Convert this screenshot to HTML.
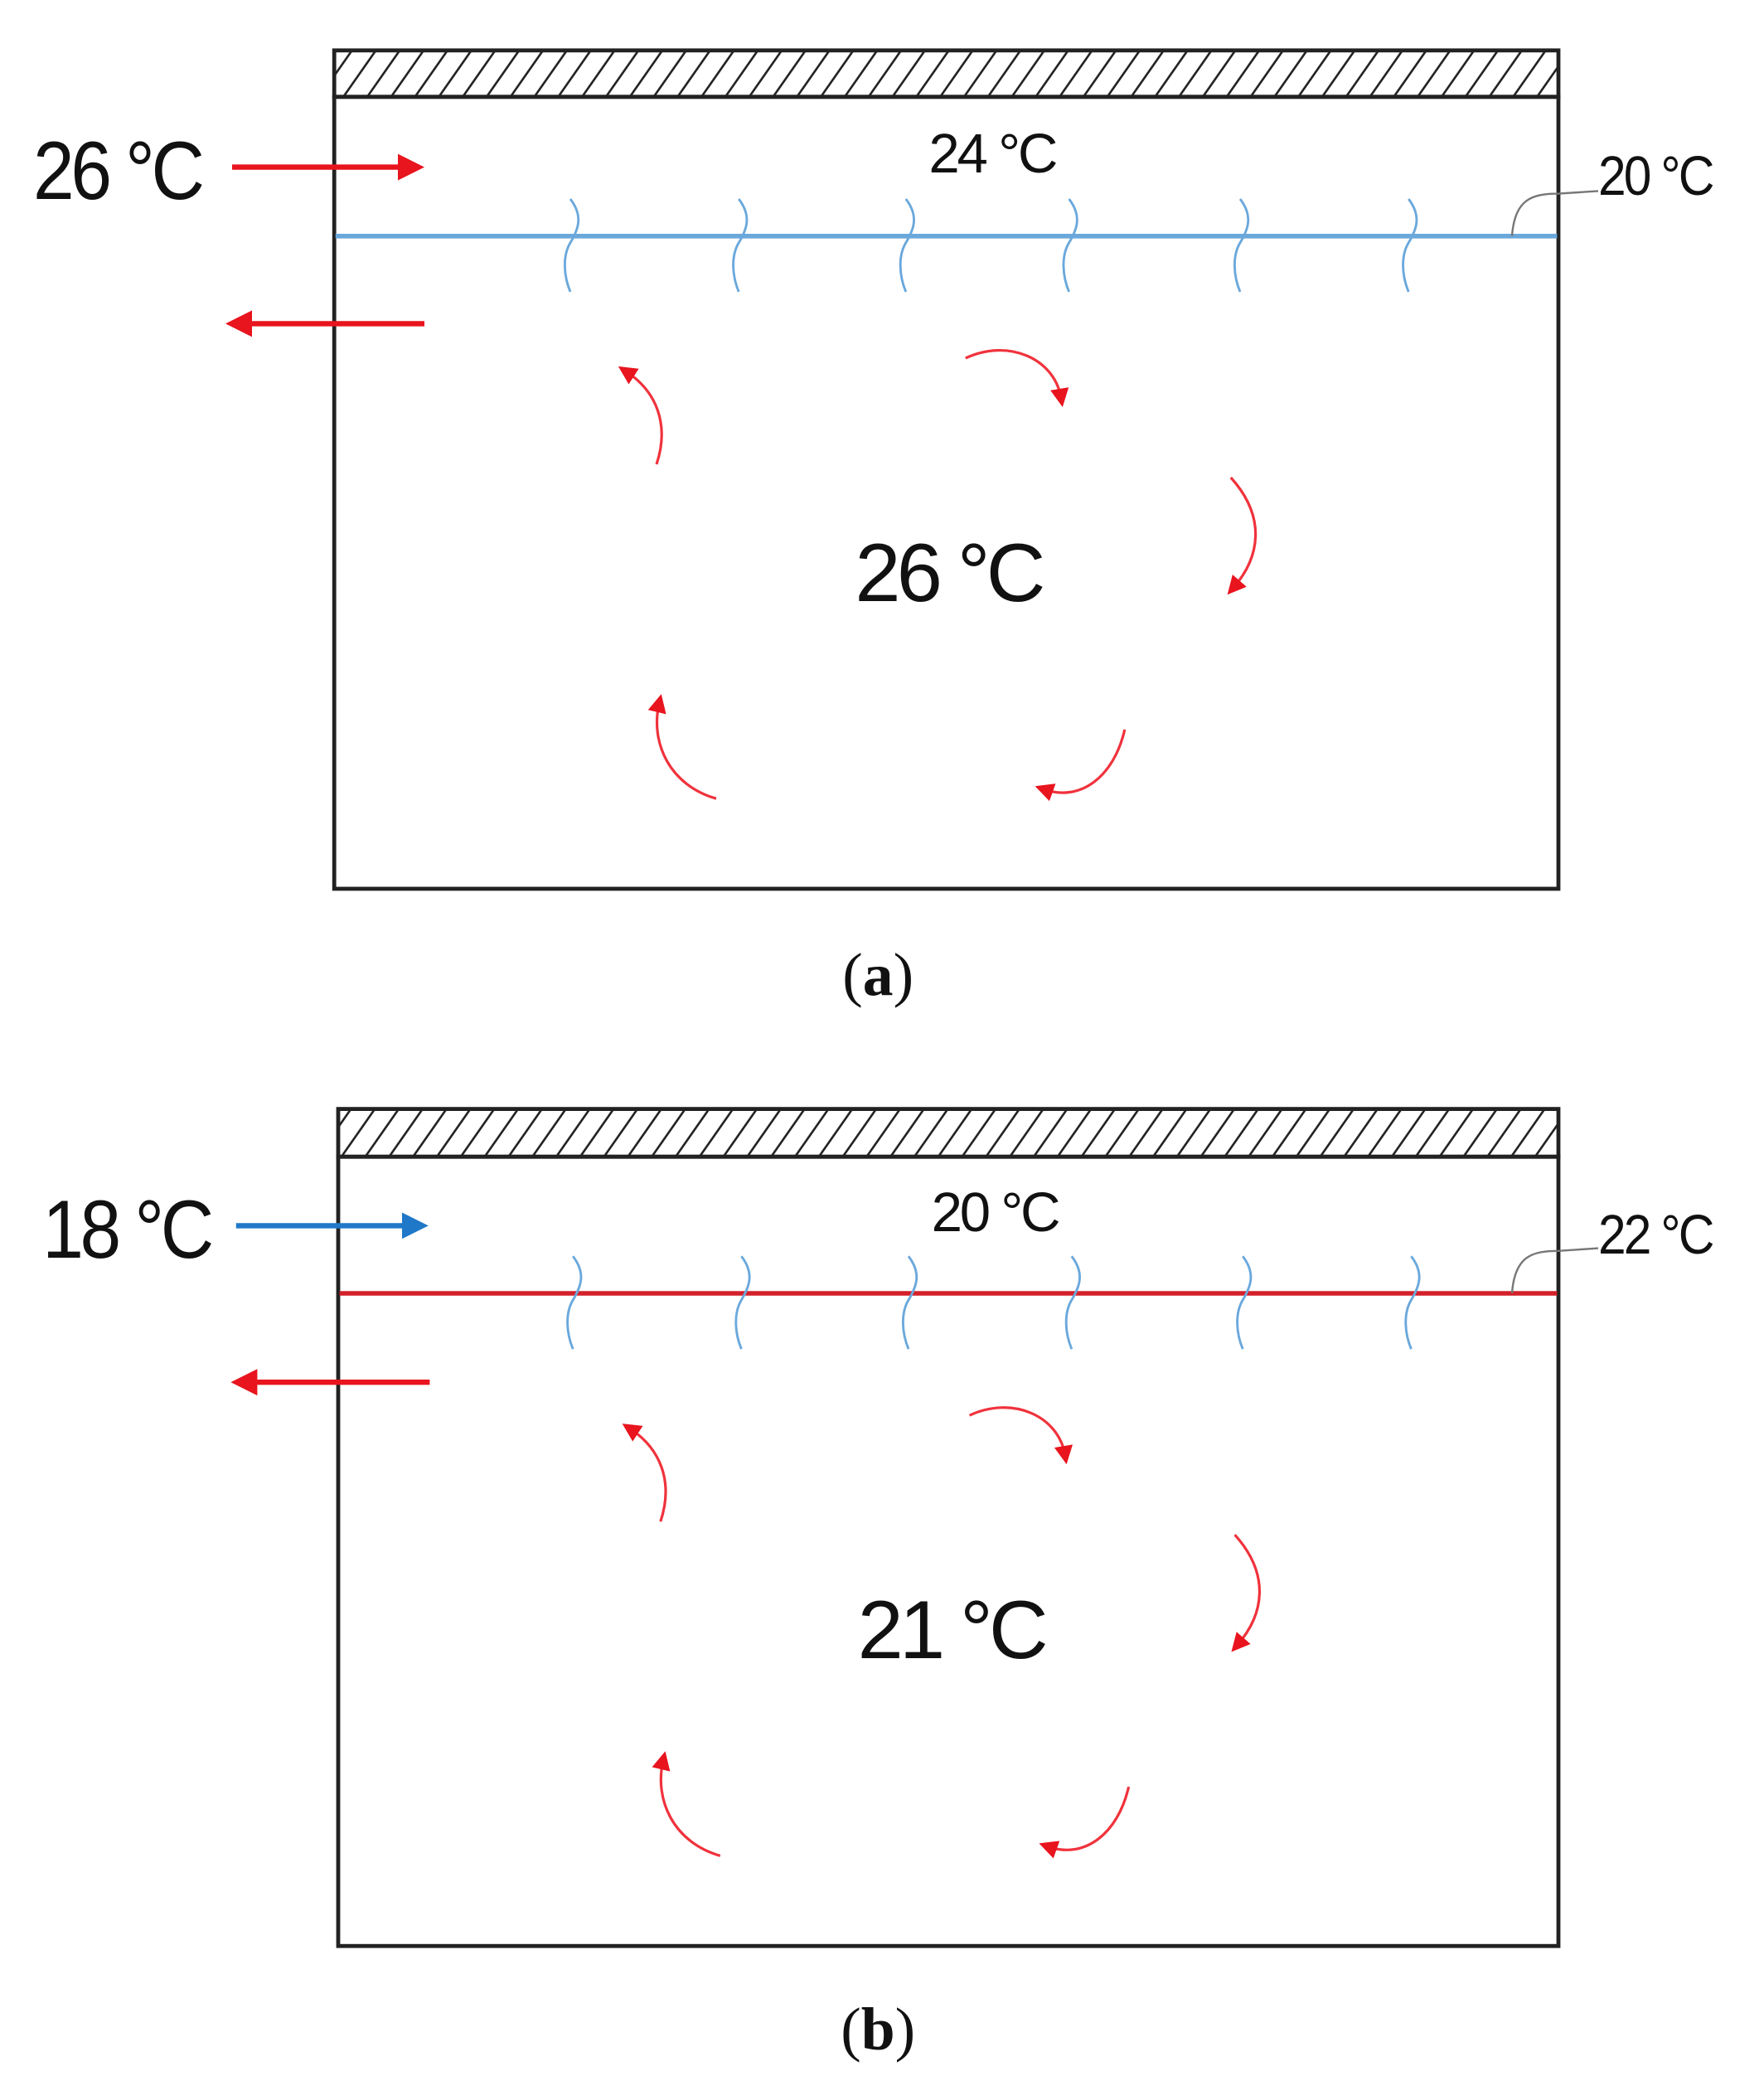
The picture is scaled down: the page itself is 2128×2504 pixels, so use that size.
<!DOCTYPE html>
<html><head><meta charset="utf-8"><style>html,body{margin:0;padding:0;background:#fff}svg{display:block}</style></head>
<body>
<svg width="2128" height="2504" viewBox="0 0 1330 1565" xmlns="http://www.w3.org/2000/svg" font-family="Liberation Sans, sans-serif">
<defs>
<pattern id="h" width="18" height="40" patternUnits="userSpaceOnUse" patternTransform="skewX(-35)">
<line x1="4" y1="0" x2="4" y2="40" stroke="#222" stroke-width="2"/>
</pattern>
<marker id="mr" viewBox="0 0 10 10" refX="5" refY="5" markerWidth="5" markerHeight="5" orient="auto"><path d="M0,0L10,5L0,10z" fill="#e8141e"/></marker>
<marker id="mb" viewBox="0 0 10 10" refX="5" refY="5" markerWidth="5" markerHeight="5" orient="auto"><path d="M0,0L10,5L0,10z" fill="#1f78c8"/></marker>
<marker id="mc" viewBox="0 0 10 10" refX="5" refY="5" markerWidth="7" markerHeight="7" orient="auto"><path d="M0,0L10,5L0,10z" fill="#e8141e"/></marker>
<g id="w"><path d="M0,-28 C10,-15 6,-5 0,5 C-6,15 -5,30 0,42" fill="none" stroke="#6aa8dc" stroke-width="1.8"/></g>
<g id="circ" fill="none" stroke="#f0323c" stroke-width="2">
<path d="M495,350 C505,320 495,295 472,280" marker-end="url(#mc)"/>
<path d="M728,270 C760,255 795,270 800,300" marker-end="url(#mc)"/>
<path d="M928,360 C955,390 950,420 930,443" marker-end="url(#mc)"/>
<path d="M848,550 C840,585 815,605 787,595" marker-end="url(#mc)"/>
<path d="M540,602 C505,592 490,560 497,530" marker-end="url(#mc)"/>
</g>
</defs>

<!-- Panel a -->
<rect x="252" y="38" width="923" height="35" fill="url(#h)" stroke="#222" stroke-width="3"/>
<rect x="252" y="73" width="923" height="597" fill="none" stroke="#222" stroke-width="3"/>
<line x1="253" y1="178" x2="1174" y2="178" stroke="#6aa8dc" stroke-width="3.5"/>
<use href="#w" x="430" y="178"/><use href="#w" x="557" y="178"/><use href="#w" x="683" y="178"/><use href="#w" x="806" y="178"/><use href="#w" x="935" y="178"/><use href="#w" x="1062" y="178"/>
<path d="M1140,178 C1142,150 1155,146 1175,146 L1205,144" fill="none" stroke="#777" stroke-width="1.5"/>
<text x="1205" y="147" font-size="42" fill="#111" letter-spacing="-2" transform="translate(1205 0) scale(0.9 1) translate(-1205 0)">20 °C</text>
<text x="748" y="130" font-size="42" fill="#111" text-anchor="middle" letter-spacing="-2">24 °C</text>
<text x="25" y="150" font-size="62" fill="#111" letter-spacing="-3" transform="translate(25 0) scale(0.9 1) translate(-25 0)">26 °C</text>
<line x1="175" y1="126" x2="310" y2="126" stroke="#e8141e" stroke-width="4" marker-end="url(#mr)"/>
<line x1="320" y1="244" x2="180" y2="244" stroke="#e8141e" stroke-width="4" marker-end="url(#mr)"/>
<text x="715" y="453" font-size="62" fill="#111" text-anchor="middle" letter-spacing="-3">26 °C</text>
<use href="#circ"/>
<text x="662" y="750" font-size="46" font-family="Liberation Serif, serif" fill="#111" text-anchor="middle">(<tspan font-weight="bold">a</tspan>)</text>

<!-- Panel b -->
<rect x="255" y="836" width="920" height="36" fill="url(#h)" stroke="#222" stroke-width="3"/>
<rect x="255" y="872" width="920" height="595" fill="none" stroke="#222" stroke-width="3"/>
<line x1="256" y1="975" x2="1174" y2="975" stroke="#d4202a" stroke-width="3.5"/>
<use href="#w" x="432" y="975"/><use href="#w" x="559" y="975"/><use href="#w" x="685" y="975"/><use href="#w" x="808" y="975"/><use href="#w" x="937" y="975"/><use href="#w" x="1064" y="975"/>
<path d="M1140,975 C1142,947 1155,943 1175,943 L1205,941" fill="none" stroke="#777" stroke-width="1.5"/>
<text x="1205" y="945" font-size="42" fill="#111" letter-spacing="-2" transform="translate(1205 0) scale(0.9 1) translate(-1205 0)">22 °C</text>
<text x="750" y="928" font-size="42" fill="#111" text-anchor="middle" letter-spacing="-2">20 °C</text>
<text x="32" y="948" font-size="62" fill="#111" letter-spacing="-3" transform="translate(32 0) scale(0.9 1) translate(-32 0)">18 °C</text>
<line x1="178" y1="924" x2="313" y2="924" stroke="#1f78c8" stroke-width="4" marker-end="url(#mb)"/>
<line x1="324" y1="1042" x2="184" y2="1042" stroke="#e8141e" stroke-width="4" marker-end="url(#mr)"/>
<text x="717" y="1250" font-size="62" fill="#111" text-anchor="middle" letter-spacing="-3">21 °C</text>
<use href="#circ" x="3" y="797"/>
<text x="662" y="1545" font-size="46" font-family="Liberation Serif, serif" fill="#111" text-anchor="middle">(<tspan font-weight="bold">b</tspan>)</text>
</svg>
</body></html>
